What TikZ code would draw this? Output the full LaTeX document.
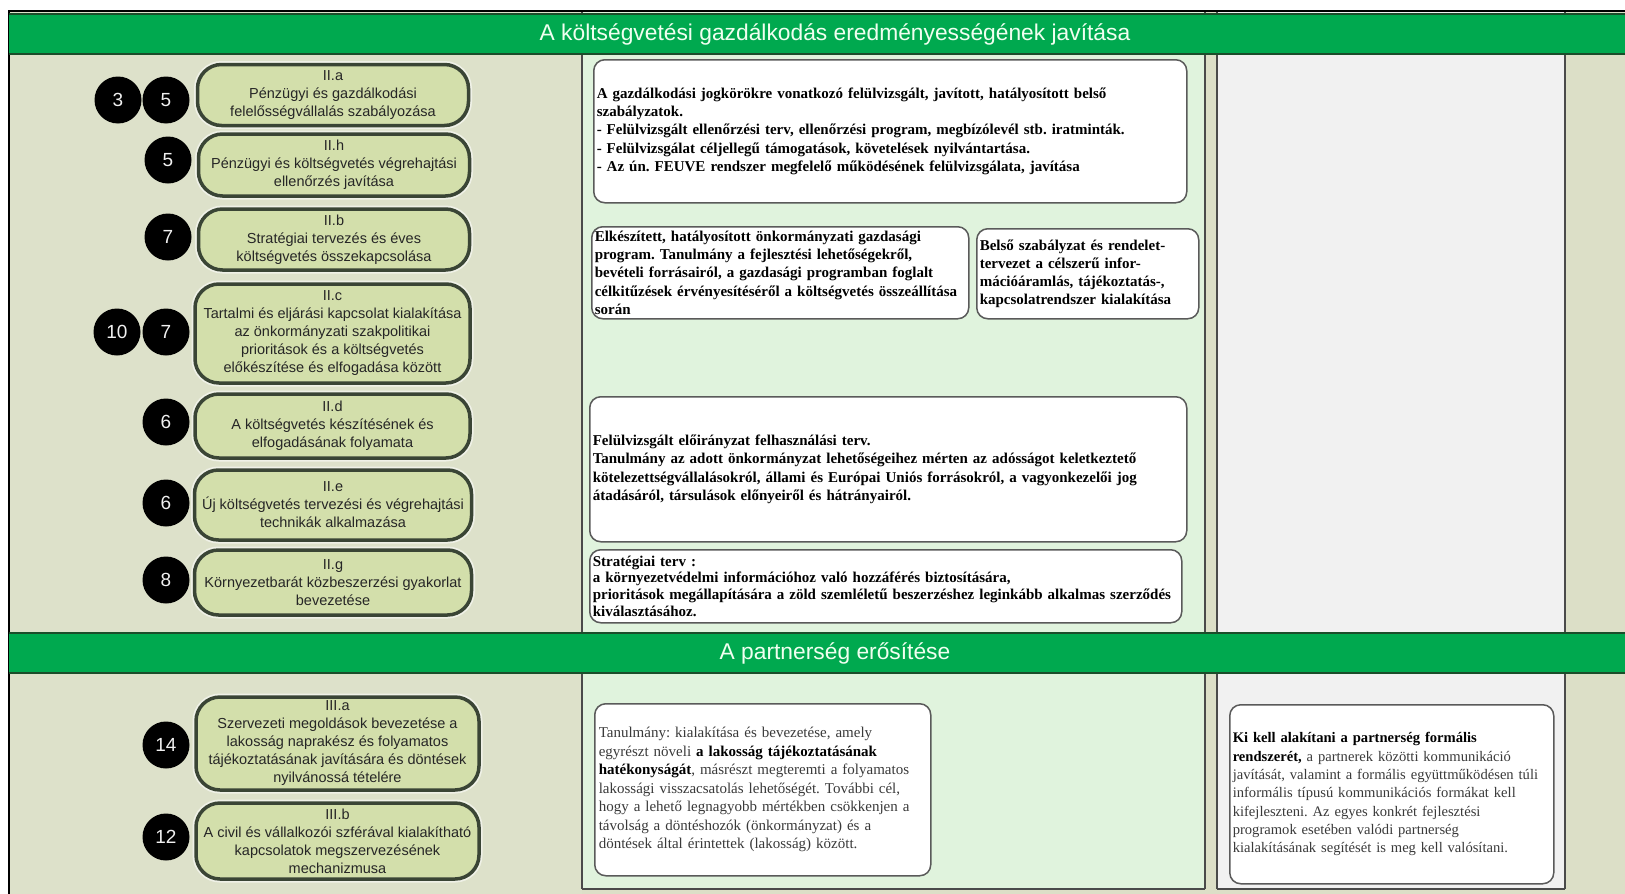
\documentclass[tikz,border=0pt]{standalone}
\usepackage{fontspec}
\setmainfont{Liberation Serif}
\newfontfamily\arialf{Liberation Sans}
\frenchspacing
\definecolor{lefttan}{HTML}{DDE1CA}
\definecolor{midgreen}{HTML}{E0F3DD}
\definecolor{rightgray}{HTML}{F1F1F1}
\definecolor{tancol}{HTML}{DCDFC7}
\definecolor{bandgreen}{HTML}{00A94F}
\definecolor{bandline}{HTML}{1B4D2A}
\definecolor{pillfill}{HTML}{D3DFAB}
\definecolor{pilldraw}{HTML}{3A4535}
\definecolor{boxdraw}{HTML}{5A5A5A}
\definecolor{colline}{HTML}{4A4A4A}
\definecolor{pilltext}{HTML}{262626}
\definecolor{softtext}{HTML}{3A3A3A}
\begin{document}
\begin{tikzpicture}[x=1pt,y=-1pt,
  pill/.style={draw=pilldraw, line width=3.5pt, fill=pillfill, rounded corners=24pt,
    preaction={draw=white, draw opacity=0.55, line width=7pt},
    align=center, inner sep=0pt, text=pilltext,
    font=\arialf\fontsize{14.5}{18}\selectfont},
  numc/.style={circle, fill=black, minimum size=47pt, inner sep=0pt, text=white!88!gray,
    font=\arialf\fontsize{19}{19}\selectfont},
  outbox/.style={draw=boxdraw, line width=1.5pt, fill=white, rounded corners=11pt,
    anchor=north west, align=left, inner xsep=3pt, inner ysep=0pt, text=black},
  bandtitle/.style={text=white!94!green, font=\arialf\fontsize{22.8}{22.8}\selectfont},
  colline/.style={draw=colline, line width=1.4pt},
  bandedge/.style={draw=bandline, line width=2pt}
]
\useasboundingbox (0,0) rectangle (1625,894);
\fill[white] (0,0) rectangle (1625,894);
% column backgrounds
\fill[lefttan] (9,11) rectangle (582,894);
\fill[midgreen] (582,11) rectangle (1205,894);
\fill[tancol] (1205,11) rectangle (1217,894);
\fill[rightgray] (1217,11) rectangle (1565,894);
\fill[tancol] (1565,11) rectangle (1625,894);
\fill[tancol] (582,889) rectangle (1625,894);
% column lines
\draw[colline] (582,11) -- (582,889);
\draw[colline] (1205,11) -- (1205,889);
\draw[colline] (1217,11) -- (1217,889);
\draw[colline] (1565,11) -- (1565,889);
\draw[colline] (582,889) -- (1205,889);
\draw[colline] (1217,889) -- (1565,889);
% outer frame
\draw[line width=1.6pt] (8,11) -- (1625,11);
\draw[line width=1.6pt] (9,11) -- (9,894);
% bands
\fill[bandgreen] (9,14) rectangle (1625,54);
\draw[bandedge] (9,14) -- (1625,14);
\draw[bandedge] (9,54) -- (1625,54);
\fill[bandgreen] (9,633) rectangle (1625,673);
\draw[bandedge] (9,633) -- (1625,633);
\draw[bandedge] (9,673) -- (1625,673);
\node[bandtitle] (t1) at (835,34) {A költségvetési gazdálkodás eredményességének javítása};
\node[bandtitle] (t2) at (835,653) {A partnerség erősítése};

% pills
\node[pill, minimum width=271pt, minimum height=61pt] (IIa) at (333,95) {II.a\\Pénzügyi és gazdálkodási\\felelősségvállalás szabályozása};
\node[pill, minimum width=271pt, minimum height=62pt] (IIh) at (334,165) {II.h\\Pénzügyi és költségvetés végrehajtási\\ellenőrzés javítása};
\node[pill, minimum width=271pt, minimum height=61pt] (IIb) at (334,239.5) {II.b\\Stratégiai tervezés és éves\\költségvetés összekapcsolása};
\node[pill, minimum width=275pt, minimum height=99pt] (IIc) at (332.5,333.5) {II.c\\Tartalmi és eljárási kapcsolat kialakítása\\az önkormányzati szakpolitikai\\prioritások és a költségvetés\\előkészítése és elfogadása között};
\node[pill, minimum width=275pt, minimum height=64pt] (IId) at (332.5,426) {II.d\\A költségvetés készítésének és\\elfogadásának folyamata};
\node[pill, minimum width=277pt, minimum height=70pt] (IIe) at (333,505) {II.e\\Új költségvetés tervezési és végrehajtási\\technikák alkalmazása};
\node[pill, minimum width=277pt, minimum height=65pt] (IIg) at (333,582.5) {II.g\\Környezetbarát közbeszerzési gyakorlat\\bevezetése};
\node[pill, minimum width=283pt, minimum height=93pt] (IIIa) at (337.5,743.5) {III.a\\Szervezeti megoldások bevezetése a\\lakosság naprakész és folyamatos\\tájékoztatásának javítására és döntések\\nyilvánossá tételére};
\node[pill, minimum width=283pt, minimum height=76pt] (IIIb) at (337.5,841) {III.b\\A civil és vállalkozói szférával kialakítható\\kapcsolatok megszervezésének\\mechanizmusa};

% numbered circles
\node[numc] (n3) at (118,100) {3};
\node[numc] (n5a) at (166,100) {5};
\node[numc] (n5b) at (168,160) {5};
\node[numc] (n7a) at (168,237) {7};
\node[numc] (n10) at (117,332) {10};
\node[numc] (n7b) at (166,332) {7};
\node[numc] (n6a) at (166,422) {6};
\node[numc] (n6b) at (166,503) {6};
\node[numc] (n8) at (166,580) {8};
\node[numc] (n14) at (166,745) {14};
\node[numc] (n12) at (166,837) {12};

% output boxes
\node[outbox, minimum width=593pt, minimum height=143pt, text width=587pt,
  font=\bfseries\fontsize{15}{18.4}\selectfont] (b1) at (593,59)
 {A gazdálkodási jogkörökre vonatkozó felülvizsgált, javított, hatályosított belső\\szabályzatok.\\- Felülvizsgált ellenőrzési terv, ellenőrzési program, megbízólevél stb. iratminták.\\- Felülvizsgálat céljellegű támogatások, követelések nyilvántartása.\\- Az ún. FEUVE rendszer megfelelő működésének felülvizsgálata, javítása};
\node[outbox, minimum width=377pt, minimum height=92pt, text width=371pt,
  font=\bfseries\fontsize{15}{18.3}\selectfont] (b2) at (591,226)
 {Elkészített, hatályosított önkormányzati gazdasági\\program. Tanulmány a fejlesztési lehetőségekről,\\bevételi forrásairól, a gazdasági programban foglalt\\célkitűzések érvényesítéséről a költségvetés összeállítása\\során};
\node[outbox, minimum width=222pt, minimum height=90pt, text width=216pt,
  font=\bfseries\fontsize{15}{18}\selectfont] (b3) at (976,228)
 {Belső szabályzat és rendelet-\\tervezet a célszerű infor-\\mációáramlás, tájékoztatás-,\\kapcsolatrendszer kialakítása};
\node[outbox, minimum width=597pt, minimum height=145pt, text width=591pt,
  font=\bfseries\fontsize{15}{18.3}\selectfont] (b4) at (589,396)
 {Felülvizsgált előirányzat felhasználási terv.\\Tanulmány az adott önkormányzat lehetőségeihez mérten az adósságot keletkeztető\\kötelezettségvállalásokról, állami és Európai Uniós forrásokról, a vagyonkezelői jog\\átadásáról, társulások előnyeiről és hátrányairól.};
\node[outbox, minimum width=592pt, minimum height=73pt, text width=586pt,
  font=\bfseries\fontsize{15}{16.8}\selectfont] (b5) at (589,549)
 {Stratégiai terv :\\a környezetvédelmi információhoz való hozzáférés biztosítására,\\prioritások megállapítására a zöld szemléletű beszerzéshez leginkább alkalmas szerződés\\kiválasztásához.};
\node[outbox, minimum width=336pt, minimum height=172pt, text width=328pt, inner xsep=4pt,
  text=softtext, font=\fontsize{15}{18.5}\selectfont] (b6) at (594,703)
 {Tanulmány: kialakítása és bevezetése, amely\\egyrészt növeli \textbf{\color{black}a lakosság tájékoztatásának}\\\textbf{\color{black}hatékonyságát}, másrészt megteremti a folyamatos\\lakossági visszacsatolás lehetőségét. További cél,\\hogy a lehető legnagyobb mértékben csökkenjen a\\távolság a döntéshozók (önkormányzat) és a\\döntések által érintettek (lakosság) között.};
\node[outbox, minimum width=324pt, minimum height=179pt, text width=318pt,
  text=softtext, font=\fontsize{14.6}{18.3}\selectfont] (b7) at (1229,704)
 {\textbf{\color{black}Ki kell alakítani a partnerség formális}\\\textbf{\color{black}rendszerét,} a partnerek közötti kommunikáció\\javítását, valamint a formális együttműködésen túli\\informális típusú kommunikációs formákat kell\\kifejleszteni. Az egyes konkrét fejlesztési\\programok esetében valódi partnerség\\kialakításának segítését is meg kell valósítani.};
\end{tikzpicture}
\end{document}
